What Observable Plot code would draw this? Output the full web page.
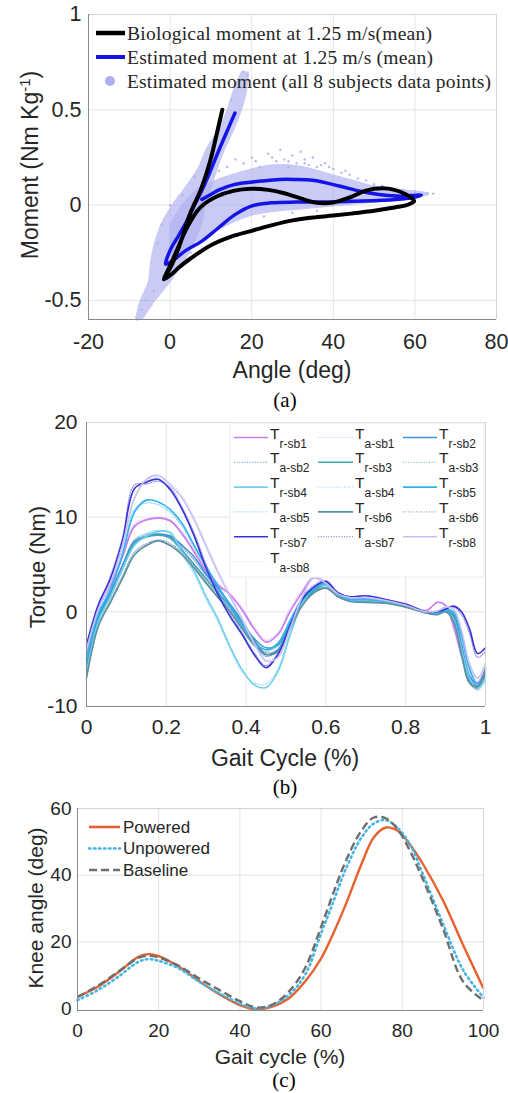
<!DOCTYPE html>
<html><head><meta charset="utf-8">
<script src="https://cdn.jsdelivr.net/npm/d3@7"></script>
<script src="https://cdn.jsdelivr.net/npm/@observablehq/plot@0.6"></script>
<style>
body{margin:0;background:#fff;}
#wrap{position:relative;width:508px;height:1093px;overflow:hidden;font-family:"Liberation Sans",Arial,sans-serif;background:#fff;}
.lab{position:absolute;white-space:nowrap;color:#262626;transform:translate(-50%,-50%);line-height:1;}
.rot{transform:translate(-50%,-50%) rotate(-90deg);}
.cap{font-family:"Liberation Serif","Times New Roman",serif;color:#000;}
</style></head><body><div id="wrap"></div>
<script>
// ---------- Panel (a) data ----------
const aAngleTicks = [-20, 0, 20, 40, 60, 80];
const aMomentTicks = [-0.5, 0, 0.5, 1];
const bioAngle = [12.8, 11.5, 9.8, 7.5, 5.0, 2.5, 0.5, -1.3, -1.5, 0.5, 2, 5, 10, 15, 20, 25, 30, 35, 40, 45, 50, 55, 58, 59.8,
  59.3, 57.5, 55, 52, 48, 44, 40, 36, 32, 28, 24, 20, 15.5, 11.4, 7.3, 4.1, 1.6, -0.5, -1.4];
const bioMoment = [0.50, 0.38, 0.23, 0.08, -0.04, -0.20, -0.31, -0.38, -0.39, -0.36, -0.33, -0.28, -0.21, -0.165, -0.135, -0.105, -0.08, -0.065, -0.055, -0.043, -0.03, -0.012, 0.0, 0.02,
  0.035, 0.06, 0.08, 0.088, 0.076, 0.04, 0.014, 0.012, 0.035, 0.062, 0.08, 0.086, 0.075, 0.045, -0.014, -0.12, -0.24, -0.34, -0.38];
const estAngle = [15.9, 13.8, 11.8, 9.7, 7.7, 5.5, 3.7, 1.8, 0.4, -0.8, -1.1, 0.4, 3.7, 7.7, 11.8, 15.9, 19.9, 24.8, 30.9, 39, 47.2, 55.3, 59.5, 61.6,
  59, 56.8, 51.2, 46.3, 41.5, 34.9, 30.5, 26.8, 22.4, 15.9, 12, 9.5, 7.8];
const estMoment = [0.483, 0.38, 0.28, 0.17, 0.074, -0.02, -0.10, -0.17, -0.22, -0.28, -0.31, -0.295, -0.24, -0.19, -0.12, -0.05, -0.005, 0.012, 0.016, 0.016, 0.021, 0.03, 0.04, 0.052,
  0.05, 0.047, 0.056, 0.074, 0.10, 0.13, 0.135, 0.135, 0.126, 0.109, 0.08, 0.05, 0.03];
// cloud of all-subject points: dense band envelopes + fringe points
const cloudFanAngle = [0, 3, 6, 10, 15, 20, 25, 30, 35, 40, 45, 50, 55, 60, 63.5];
const cloudFanLow = [-0.28, -0.24, -0.2, -0.16, -0.1, -0.06, -0.04, -0.03, -0.02, -0.01, 0.0, 0.01, 0.02, 0.03, 0.05];
const cloudFanHigh = [-0.1, 0.0, 0.07, 0.12, 0.16, 0.19, 0.21, 0.21, 0.19, 0.16, 0.13, 0.1, 0.085, 0.075, 0.065];
const cloudRampMoment = [-0.6, -0.5, -0.4, -0.3, -0.2, -0.1, 0.0, 0.1, 0.2, 0.3, 0.4, 0.5, 0.6, 0.7];
const cloudRampLow = [-8.5, -7.3, -5.3, -4.8, -3.8, -2.2, 0.5, 4.0, 7.0, 9.0, 12.0, 14.0, 15.5, 17.5];
const cloudRampHigh = [-6.5, -3.3, 0.4, 3.6, 6.1, 8.0, 9.0, 10.5, 12.0, 13.8, 16.0, 17.8, 19.0, 19.5];
const cloudDotAngle = [18, 20, 22, 24, 26, 27, 28, 29, 30, 31, 32, 33, 34, 35, 36, 38, 40, 42, 44, 46, 48, 50, 52, 54, 57, 60, 63, 64.5, 14, 12, 16, 23, 30, 36, 10, 7, 5, -6, -8, -7, -4, -3, -2, 0, 3, 6, 17, 18, 19, 15, 21, 25, 29, 33, 37, 39, 43];
const cloudDotMoment = [0.22, 0.25, 0.2, 0.27, 0.23, 0.29, 0.24, 0.2, 0.26, 0.22, 0.28, 0.24, 0.21, 0.25, 0.2, 0.22, 0.19, 0.17, 0.16, 0.14, 0.13, 0.11, 0.1, 0.09, 0.08, 0.07, 0.06, 0.06, 0.2, 0.18, 0.24, -0.06, -0.04, -0.03, -0.15, -0.2, -0.25, -0.5, -0.6, -0.55, -0.45, -0.2, -0.1, 0.0, 0.05, 0.15, 0.65, 0.7, 0.68, 0.55, 0.23, 0.25, 0.23, 0.22, 0.21, 0.2, 0.18];

// ---------- Panel (b) data ----------
const gaitTicks = [0, 0.2, 0.4, 0.6, 0.8, 1];
const torqueTicks = [-10, 0, 10, 20];
const gaitX = [0, .03, .06, .09, .12, .15, .18, .21, .24, .27, .30, .33, .36, .39, .42, .45, .48, .51, .54, .57, .60, .63, .66, .70, .75, .80, .85, .88, .90, .92, .94, .96, .98, 1.0];
const Tr_sb1 = [-4.5, 0.5, 2.7, 5.8, 9.0, 9.7, 9.9, 9.6, 8.2, 6.3, 4.3, 2.8, 1.8, 0.2, -1.8, -3.2, -2.4, 0.0, 2.0, 3.6, 3.0, 2.0, 1.5, 1.4, 1.2, 0.8, 0.1, 1.0, 0.7, -1.5, -4.5, -6.8, -7.5, -6.0];
const Ta_sb1 = [-4.0, 0.8, 3.0, 6.0, 9.2, 9.8, 10.0, 9.7, 8.4, 6.5, 4.5, 3.0, 1.9, 0.4, -1.6, -3.0, -2.2, 0.3, 2.2, 3.8, 3.2, 2.1, 1.6, 1.5, 1.3, 0.9, 0.2, 1.0, 0.6, -1.8, -4.8, -7.0, -7.8, -6.3];
const Tr_sb2 = [-5.5, -0.5, 2.0, 4.8, 7.4, 8.0, 8.2, 8.0, 7.0, 5.8, 4.0, 2.5, 0.8, -1.0, -3.0, -4.5, -4.0, -1.3, 1.0, 2.3, 2.9, 1.8, 1.3, 1.2, 1.0, 0.6, -0.1, -0.2, 0.1, -0.3, -3.5, -6.8, -7.8, -6.0];
const Ta_sb2 = [-5.2, -0.3, 2.2, 5.0, 7.6, 8.2, 8.3, 7.9, 6.8, 5.5, 3.8, 2.3, 0.6, -1.2, -3.2, -4.7, -4.1, -1.1, 1.1, 2.4, 3.0, 1.9, 1.4, 1.3, 1.0, 0.6, -0.1, -0.1, 0.2, -0.5, -3.8, -7.0, -8.0, -6.4];
const Tr_sb3 = [-6.0, -0.8, 1.7, 4.5, 7.2, 7.9, 8.1, 7.8, 6.5, 5.0, 3.5, 2.0, 0.5, -1.2, -2.8, -3.8, -3.5, -1.2, 0.9, 2.2, 2.8, 1.7, 1.2, 1.1, 1.0, 0.6, 0.0, -0.2, 0.1, -0.5, -4.0, -7.2, -8.0, -6.8];
const Ta_sb3 = [-5.8, -0.6, 1.9, 4.7, 7.4, 8.0, 8.2, 7.7, 6.3, 4.8, 3.3, 1.8, 0.3, -1.4, -3.0, -4.0, -3.6, -1.0, 1.0, 2.3, 2.9, 1.8, 1.3, 1.2, 1.0, 0.7, 0.1, -0.1, 0.2, -0.7, -4.3, -7.4, -8.2, -7.0];
const Tr_sb4 = [-6.5, -1.0, 1.6, 4.5, 7.0, 8.0, 8.5, 8.4, 6.2, 4.3, 1.6, -0.8, -3.7, -6.1, -7.7, -8.0, -6.3, -2.5, 0.8, 2.5, 2.8, 1.7, 1.2, 1.2, 1.0, 0.6, -0.1, -0.2, 0.0, -0.8, -4.0, -7.0, -8.0, -7.0];
const Ta_sb4 = [-6.2, -0.8, 1.8, 4.8, 7.3, 8.3, 8.6, 8.2, 6.0, 4.0, 1.3, -1.1, -3.9, -6.3, -7.5, -7.6, -6.0, -2.2, 1.0, 2.7, 3.0, 1.8, 1.3, 1.2, 1.0, 0.6, 0.0, -0.1, 0.1, -1.0, -4.3, -7.3, -8.3, -7.3];
const Tr_sb5 = [-5.0, -0.2, 2.3, 6.0, 10.5, 11.8, 11.6, 10.8, 9.3, 7.0, 4.8, 2.7, 0.6, -1.5, -3.3, -4.0, -3.3, -1.0, 1.2, 2.4, 3.0, 1.8, 1.3, 1.3, 1.1, 0.7, 0.0, -0.1, 0.2, 0.0, -2.5, -6.0, -7.6, -6.5];
const Ta_sb5 = [-4.8, 0.0, 2.5, 6.3, 10.8, 11.5, 11.3, 10.5, 9.0, 6.8, 4.6, 2.5, 0.4, -1.7, -3.5, -4.2, -3.4, -0.8, 1.4, 2.6, 3.1, 1.9, 1.4, 1.4, 1.1, 0.7, 0.0, 0.0, 0.3, -0.2, -2.8, -6.3, -7.8, -6.8];
const Tr_sb6 = [-7.0, -1.5, 1.0, 3.5, 6.0, 7.0, 7.5, 7.0, 6.0, 4.6, 3.0, 1.5, 0.0, -1.8, -3.5, -4.5, -4.2, -1.8, 0.6, 2.0, 2.5, 1.6, 1.1, 1.0, 0.9, 0.5, -0.1, -0.3, 0.0, -1.0, -4.5, -7.5, -7.9, -6.2];
const Ta_sb6 = [-6.8, -1.3, 1.2, 3.8, 6.3, 7.2, 7.6, 7.2, 6.2, 4.8, 3.2, 1.6, 0.2, -1.6, -3.3, -4.3, -4.0, -1.6, 0.8, 2.1, 2.6, 1.7, 1.2, 1.1, 0.9, 0.5, -0.1, -0.2, 0.1, -1.2, -4.8, -7.6, -8.1, -6.5];
const Tr_sb7 = [-3.5, 0.8, 3.5, 7.5, 13.0, 13.7, 14.0, 12.9, 10.8, 8.0, 4.6, 1.8, -0.5, -2.4, -4.5, -5.9, -4.5, -1.5, 1.3, 2.6, 3.2, 2.0, 1.6, 1.7, 1.3, 0.8, 0.0, 0.0, 0.3, 0.6, 0.0, -1.8, -4.4, -3.8];
const Ta_sb7 = [-3.8, 0.6, 3.8, 7.8, 13.4, 13.5, 13.8, 13.1, 11.0, 8.3, 5.0, 2.2, -0.2, -2.2, -4.3, -5.7, -4.3, -1.2, 1.5, 2.8, 3.3, 2.1, 1.6, 1.7, 1.3, 0.8, 0.0, 0.1, 0.4, 0.5, -0.3, -2.3, -4.8, -4.2];
const Tr_sb8 = [-4.0, 0.3, 3.0, 7.0, 12.0, 14.0, 14.4, 13.4, 12.0, 9.7, 6.9, 4.1, 1.6, -0.8, -3.3, -5.2, -4.8, -1.8, 1.5, 3.6, 3.0, 1.9, 1.5, 1.5, 1.2, 0.7, 0.0, 0.1, 0.5, 0.3, -2.0, -5.5, -7.0, -5.5];
const Ta_sb8 = [-4.2, 0.2, 2.8, 6.8, 11.8, 13.8, 14.2, 13.6, 12.3, 10.0, 7.2, 4.4, 1.9, -0.6, -3.0, -5.0, -4.6, -1.5, 1.8, 3.7, 3.1, 2.0, 1.6, 1.5, 1.2, 0.7, 0.1, 0.1, 0.4, 0.1, -2.4, -5.8, -7.3, -5.8];
const seriesNames = ["r-sb1","a-sb1","r-sb2","a-sb2","r-sb3","a-sb3","r-sb4","a-sb4","r-sb5","a-sb5","r-sb6","a-sb6","r-sb7","a-sb7","r-sb8","a-sb8"];
const seriesValues = [Tr_sb1,Ta_sb1,Tr_sb2,Ta_sb2,Tr_sb3,Ta_sb3,Tr_sb4,Ta_sb4,Tr_sb5,Ta_sb5,Tr_sb6,Ta_sb6,Tr_sb7,Ta_sb7,Tr_sb8,Ta_sb8];
const seriesColors = ["#c77df0","#e3b6f5","#3d8fd9","#7aa0cf","#3fa5b8","#8fb9c9","#6fd0ee","#a9dcef","#2fb2ef","#8cd3f3","#5a8fa3","#8ea8b8","#3535d6","#8f86e6","#c5c2f3","#dde3f5"];

// ---------- Panel (c) data ----------
const kneeTicksX = [0, 20, 40, 60, 80, 100];
const kneeTicksY = [0, 20, 40, 60];
const kneeX =     [0,   5,   10,   15,   17.5, 20,   25,   30,  35,  40,  44,   48,  52,  56,  60,   63,  66,   70,   73,   76,   79,   82,  85,   90,   95,  100];
const powered =   [3.5, 6.5, 10.8, 15.5, 16.3, 15.7, 12.5, 8.2, 4.2, 1.0, -0.3, 0.6, 3.0, 8.0, 15.0, 22.5, 31,  43.5, 51.4, 54.3, 53.2, 49,  43.5, 32.5, 19,  6];
const unpowered = [2.5, 5.5, 9.5,  14,   14.8, 14.3, 12,   8,   4.5, 1.5, 0,    1.0, 4.0, 10,  22.5, 32,  41.6, 51.4, 55.5, 56.5, 54,   49,  40.5, 25.5, 11.5, 3.3];
const baseline =  [3.5, 6.8, 11,   15.2, 15.8, 15.3, 12.8, 9,   5.5, 2.2, 0.3,  1.2, 5.0, 12,  24.5, 34.6, 44,  53.5, 57.3, 57.0, 53.5, 47,  39,   24,   8,   2.4];
const kneeNames = ["Powered", "Unpowered", "Baseline"];
const kneeColors = ["#e8602c", "#45b6e3", "#6e6e6e"];
const kneeDash = [null, "1.5,3.5", "8,4"];

// ---------- build ----------
const wrap = document.getElementById("wrap");
const font = "Liberation Sans, Arial, sans-serif";
const gridC = "#e4e4e4", axisDark = "#8a8a8a", axisLight = "#d4d4d4";
function place(svg, top) { svg.style.position = "absolute"; svg.style.left = "0px"; svg.style.top = top + "px"; wrap.appendChild(svg); }

// Panel (a)
const bioRows = bioAngle.map((a, i) => ({a, m: bioMoment[i]}));
const estRows = estAngle.map((a, i) => ({a, m: estMoment[i]}));
const fanRows = cloudFanAngle.map((a, i) => ({a, lo: cloudFanLow[i], hi: cloudFanHigh[i]}));
const rampRows = cloudRampMoment.map((m, i) => ({m, lo: cloudRampLow[i], hi: cloudRampHigh[i]}));
const dotRows = cloudDotAngle.map((a, i) => ({a, m: cloudDotMoment[i]}));
const cloudFill = "#adaff0";
const plotA = Plot.plot({
  width: 508, height: 360, marginTop: 14, marginLeft: 88, marginRight: 12, marginBottom: 41,
  style: {fontFamily: font, fontSize: "21.5px", color: "#262626", background: "white"},
  x: {domain: [-20, 80], ticks: aAngleTicks, tickSize: 0, tickPadding: 14, label: null, tickFormat: d => String(d)},
  y: {domain: [-0.6, 1], ticks: aMomentTicks, tickSize: 0, tickPadding: 7, label: null, tickFormat: d => String(d)},
  marks: [
    Plot.ruleX([0, 20, 40, 60], {stroke: gridC}),
    Plot.ruleY([-0.5, 0, 0.5], {stroke: gridC}),
    Plot.areaX(rampRows, {y: "m", x1: "lo", x2: "hi", fill: cloudFill, fillOpacity: 0.65, curve: "catmull-rom"}),
    Plot.areaY(fanRows, {x: "a", y1: "lo", y2: "hi", fill: cloudFill, fillOpacity: 0.65, curve: "catmull-rom"}),
    Plot.dot(dotRows, {x: "a", y: "m", r: 1.2, fill: cloudFill, fillOpacity: 0.9}),
    Plot.line(estRows, {x: "a", y: "m", stroke: "#1414e6", strokeWidth: 3.5, curve: "catmull-rom"}),
    Plot.line(bioRows, {x: "a", y: "m", stroke: "#000", strokeWidth: 4, curve: "catmull-rom"}),
    Plot.ruleX([80], {stroke: axisLight}), Plot.ruleY([1], {stroke: axisLight}),
    Plot.ruleX([-20], {stroke: axisDark}), Plot.ruleY([-0.6], {stroke: axisDark})
  ]
});
place(plotA, 0);

// Panel (b)
const marksB = [
  Plot.ruleX([0.2, 0.4, 0.6, 0.8], {stroke: gridC}),
  Plot.ruleY([0, 10], {stroke: gridC})
];
const order = [1,3,5,7,9,11,13,15,0,2,4,6,8,10,12,14];
for (const k of order) {
  const rows = gaitX.map((x, i) => ({x, y: seriesValues[k][i]}));
  const dotted = seriesNames[k].startsWith("a");
  marksB.push(Plot.line(rows, {x: "x", y: "y", stroke: seriesColors[k], strokeWidth: dotted ? 1.2 : 1.6,
    strokeDasharray: dotted ? "1,1.6" : null, curve: "catmull-rom"}));
}
marksB.push(Plot.ruleX([1], {stroke: axisLight}), Plot.ruleY([20], {stroke: axisLight}),
  Plot.ruleX([0], {stroke: axisDark}), Plot.ruleY([-10], {stroke: axisDark}));
const plotB = Plot.plot({
  width: 508, height: 348, marginTop: 18, marginLeft: 86, marginRight: 23, marginBottom: 46,
  style: {fontFamily: font, fontSize: "21px", color: "#262626", background: "white"},
  x: {domain: [0, 1], ticks: gaitTicks, tickSize: 0, tickPadding: 13, label: null, tickFormat: d => String(d)},
  y: {domain: [-10, 20], ticks: torqueTicks, tickSize: 0, tickPadding: 9, label: null, tickFormat: d => String(d)},
  marks: marksB
});
place(plotB, 404);

// Panel (c)
const kneeSeries = [powered, unpowered, baseline];
const marksC = [
  Plot.ruleX([20, 40, 60, 80], {stroke: gridC}),
  Plot.ruleY([20, 40], {stroke: gridC})
];
kneeSeries.forEach((vals, k) => {
  const rows = kneeX.map((x, i) => ({x, y: vals[i]}));
  marksC.push(Plot.line(rows, {x: "x", y: "y", stroke: kneeColors[k], strokeWidth: k === 1 ? 2.6 : 2.4,
    strokeDasharray: kneeDash[k], strokeLinecap: k === 1 ? "round" : "butt", curve: "catmull-rom"}));
});
marksC.push(Plot.ruleX([100], {stroke: axisLight}), Plot.ruleY([60], {stroke: axisLight}),
  Plot.ruleX([0], {stroke: axisDark}), Plot.ruleY([-0.6], {stroke: axisDark}));
const plotC = Plot.plot({
  width: 508, height: 260, marginTop: 18, marginLeft: 77, marginRight: 25, marginBottom: 40,
  style: {fontFamily: font, fontSize: "19px", color: "#262626", background: "white"},
  x: {domain: [0, 100], ticks: kneeTicksX, tickSize: 0, tickPadding: 13, label: null, tickFormat: d => String(d)},
  y: {domain: [-0.6, 60], ticks: kneeTicksY, tickSize: 0, tickPadding: 6, label: null, tickFormat: d => String(d)},
  marks: marksC
});
place(plotC, 790);

// ---------- overlay legends ----------
const ov = d3.select(wrap).append("svg").attr("width", 508).attr("height", 1093)
  .style("position", "absolute").style("left", "0px").style("top", "0px").style("pointer-events", "none");
// legend (a)
const legA = [
  {label: "Biological moment at 1.25 m/s(mean)", type: "line", color: "#000", w: 4.5, len: 305},
  {label: "Estimated moment at 1.25 m/s (mean)", type: "line", color: "#1414e6", w: 4, len: 306},
  {label: "Estimated moment (all 8 subjects data points)", type: "dot", color: cloudFill, len: 364}
];
legA.forEach((d, i) => {
  const y = 33 + i * 24;
  if (d.type === "line") ov.append("line").attr("x1", 96).attr("x2", 125).attr("y1", y).attr("y2", y).attr("stroke", d.color).attr("stroke-width", d.w);
  else ov.append("circle").attr("cx", 110).attr("cy", y).attr("r", 5).attr("fill", d.color);
  ov.append("text").attr("x", 127).attr("y", y).attr("dy", "0.35em").attr("font-family", "Liberation Serif, Times New Roman, serif")
    .attr("font-size", 19.5).attr("fill", "#262626").attr("textLength", d.len).attr("lengthAdjust", "spacing").text(d.label);
});
// legend (b)
ov.append("rect").attr("x", 230).attr("y", 423).attr("width", 254).attr("height", 154).attr("fill", "#fff").attr("stroke", "#eeeeee");
const colLine = [[234, 268], [318, 353], [403, 437]];
const colText = [270, 355, 439];
seriesNames.forEach((name, k) => {
  const r = Math.floor(k / 3), c = k % 3;
  const y = 437.5 + r * 24.8;
  const dotted = name.startsWith("a");
  ov.append("line").attr("x1", colLine[c][0]).attr("x2", colLine[c][1]).attr("y1", y).attr("y2", y)
    .attr("stroke", seriesColors[k]).attr("stroke-width", dotted ? 1.2 : 1.6).attr("stroke-dasharray", dotted ? "1,1.6" : null);
  const t = ov.append("text").attr("x", colText[c]).attr("y", y + 1).attr("font-family", font).attr("font-size", 15.5).attr("fill", "#262626");
  t.append("tspan").text("T");
  t.append("tspan").attr("dy", 9).attr("font-size", 12).text(name);
});
// legend (c)
kneeNames.forEach((name, k) => {
  const y = 827 + k * 21.5;
  ov.append("line").attr("x1", 89).attr("x2", 120).attr("y1", y).attr("y2", y).attr("stroke", kneeColors[k])
    .attr("stroke-width", 2.6).attr("stroke-dasharray", kneeDash[k]).attr("stroke-linecap", k === 1 ? "round" : "butt");
  ov.append("text").attr("x", 123).attr("y", y).attr("dy", "0.35em").attr("font-family", font).attr("font-size", 17).attr("fill", "#262626").text(name);
});

// ---------- titles and captions ----------
function label(html, x, y, size, cls) {
  const d = document.createElement("div");
  d.className = "lab " + (cls || "");
  d.style.left = x + "px"; d.style.top = y + "px"; d.style.fontSize = size + "px";
  d.innerHTML = html; wrap.appendChild(d);
}
label('Moment (Nm Kg<sup style="font-size:0.65em;vertical-align:0.55em">-1</sup>)', 30, 165, 23, "rot");
label("Angle (deg)", 292, 370, 23);
label("(a)", 285, 400, 21, "cap");
label("Torque (Nm)", 38, 567, 22, "rot");
label("Gait Cycle (%)", 285, 758, 23);
label("(b)", 285, 787, 21, "cap");
label("Knee angle (deg)", 35, 908, 21, "rot");
label("Gait cycle (%)", 280, 1056, 21);
label("(c)", 284, 1080, 21, "cap");
</script></body></html>
